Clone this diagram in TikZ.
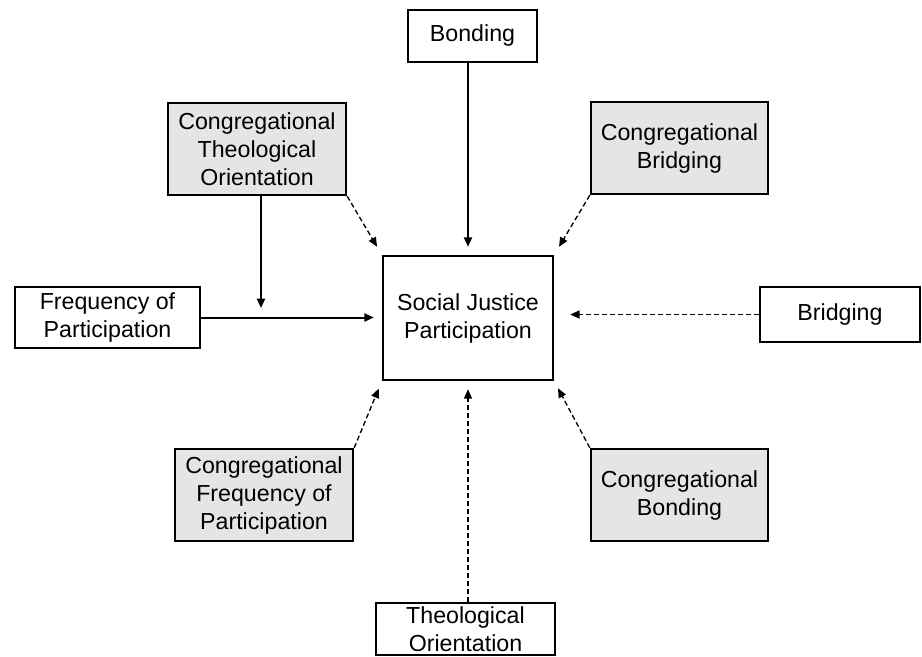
\documentclass[tikz,border=0pt]{standalone}
\usepackage{fontspec}
\setmainfont{Liberation Sans}
\usetikzlibrary{arrows.meta}

\tikzset{
  box/.style={draw,line width=1.8pt,align=center,inner sep=0pt,
    font=\fontsize{17.4pt}{21pt}\selectfont},
  gbox/.style={box,fill=gray!20},
  solidarrow/.style={line width=1.5pt,-{Triangle[length=7pt,width=6pt]}},
  dasharrow/.style={line width=1pt,dash pattern=on 3.75pt off 2.25pt,
    -{Triangle[length=7pt,width=6pt]}}
}

\begin{document}
\begin{tikzpicture}[x=0.75pt,y=-0.75pt]
  \useasboundingbox (0,0) rectangle (922,657);

  \node[box,minimum width=127.5pt,minimum height=93pt] (sjp) at (468,318) {Social Justice\\Participation};
  \node[box,minimum width=96.75pt,minimum height=39pt] (bond) at (472.5,36) {Bonding};
  \node[gbox,minimum width=133.5pt,minimum height=69pt] (cto) at (257,149) {Congregational\\Theological\\Orientation};
  \node[gbox,minimum width=132.75pt,minimum height=69pt] (cbridge) at (679.5,148) {Congregational\\Bridging};
  \node[box,minimum width=138.75pt,minimum height=45.75pt] (freq) at (107.5,317.5) {Frequency of\\Participation};
  \node[box,minimum width=120pt,minimum height=41.25pt] (bridg) at (840,314.5) {Bridging};
  \node[gbox,minimum width=133.5pt,minimum height=69pt] (cfreq) at (264,495) {Congregational\\Frequency of\\Participation};
  \node[gbox,minimum width=132.75pt,minimum height=69pt] (cbond) at (679.5,495) {Congregational\\Bonding};
  \node[box,minimum width=134.25pt,minimum height=39pt] (theo) at (465.5,629) {Theological\\Orientation};
  \coordinate (join) at (261,318);

  \draw[solidarrow,shorten >=6pt] (bond.south -| sjp.north) -- (sjp.north);
  \draw[solidarrow,shorten >=6pt] (freq.east) -- (freq.east -| sjp.west);
  \draw[solidarrow,shorten >=7.5pt] (cto.south -| join) -- (join);
  \draw[dasharrow,shorten >=7pt] (cto.south east) -- (sjp.north west);
  \draw[dasharrow,shorten >=7pt] (cbridge.south west) -- (sjp.north east);
  \draw[dasharrow,shorten >=12pt] (bridg.west) -- (bridg.west -| sjp.east);
  \draw[dasharrow,shorten >=6pt] (cbond.north west) -- (sjp.south east);
  \draw[dasharrow,shorten >=6pt] (cfreq.north east) -- (sjp.south west);
  \draw[dasharrow,shorten >=6pt] (theo.north -| sjp.south) -- (sjp.south);
\end{tikzpicture}
\end{document}
